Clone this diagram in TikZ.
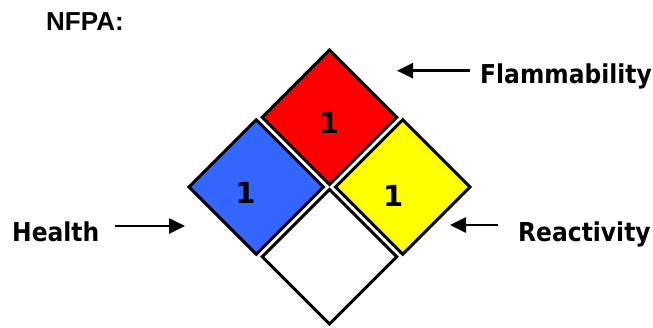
\documentclass[tikz,border=0pt]{standalone}
\usepackage{fontspec}
\setmainfont{DejaVu Sans}
\newfontfamily\nfpafont{Liberation Sans}
\newfontfamily\tagfont[FakeStretch=0.9]{DejaVu Sans}
\usepackage{tikz}
\usetikzlibrary{arrows.meta}
\definecolor{darktext}   {HTML}{000000}
\definecolor{healthblue} {HTML}{3366FF}
\definecolor{firered}    {HTML}{FF0000}
\definecolor{reactyellow}{HTML}{FFFF00}
\begin{document}
\begin{tikzpicture}[x=1pt,y=-1pt,
  hazard/.style={draw=black,line width=3pt,line join=miter},
  rating/.style={font=\bfseries\fontsize{29}{33}\selectfont,text=darktext},
  tag/.style={font=\tagfont\bfseries\fontsize{26}{30}\selectfont,text=darktext,inner sep=0pt},
  pointer/.style={-{Triangle[length=16pt,width=15pt]},line width=2.6pt}]
\useasboundingbox(0,0)rectangle(653,327);
\node[font=\nfpafont\bfseries\fontsize{26}{30}\selectfont,anchor=base west,inner sep=0pt](nfpa)at(46,30){NFPA:};
\filldraw[hazard,fill=firered,shift={(329.5,117.3)}](0,-67.2)--(67.2,0)--(0,67.2)--(-67.2,0)--cycle;
\filldraw[hazard,fill=healthblue,shift={(256.3,187)}](0,-67.2)--(67.2,0)--(0,67.2)--(-67.2,0)--cycle;
\filldraw[hazard,fill=reactyellow,shift={(402.7,187)}](0,-67.2)--(67.2,0)--(0,67.2)--(-67.2,0)--cycle;
\filldraw[hazard,fill=white,shift={(329.5,256.7)}](0,-67.2)--(67.2,0)--(0,67.2)--(-67.2,0)--cycle;
\node[rating](flamval)at(329,123.3){1};
\node[rating](healthval)at(245.5,193.3){1};
\node[rating](reactval)at(393.3,196.3){1};
\node[tag,anchor=base west](flam)at(480,83.3){Flammability};
\node[tag,anchor=base west](health)at(12,241.7){Health};
\node[tag,anchor=base west](react)at(518,241.7){Reactivity};
\coordinate(flamtip)at(397,70.7);
\coordinate(healthtip)at(185,226);
\coordinate(reacttip)at(450,225);
\draw[pointer,shorten <=10pt](flam.west|-flamtip)--(flamtip);
\draw[pointer,shorten <=15pt](health.east|-healthtip)--(healthtip);
\draw[pointer,shorten <=20pt](react.west|-reacttip)--(reacttip);
\end{tikzpicture}
\end{document}
